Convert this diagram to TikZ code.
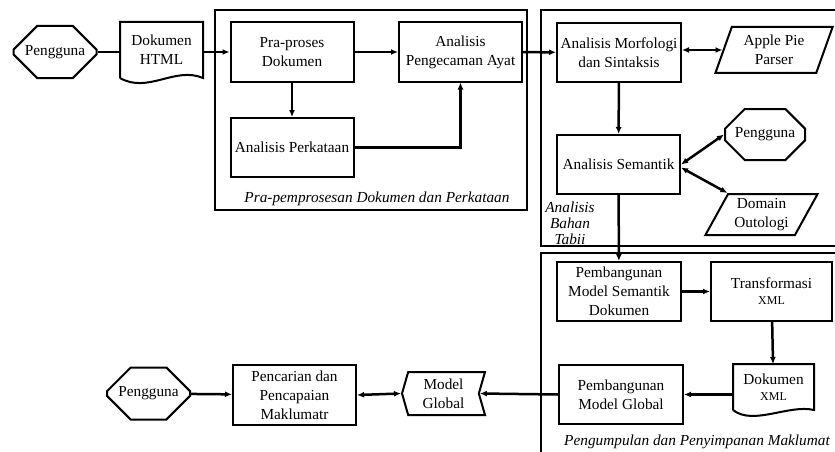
\documentclass[tikz,border=0pt]{standalone}
\usepackage{fontspec}
\setmainfont{Liberation Serif}
\usetikzlibrary{arrows.meta,shapes.geometric,shapes.misc,shapes.symbols}

\begin{document}
\begin{tikzpicture}[x=1pt,y=-1pt,->,>={Latex[length=7pt,width=6pt]},line width=2pt,
		every node/.style={font=\fontsize{15.3}{19}\selectfont,align=center,inner sep=1pt},
		kotak/.style={rectangle,draw,minimum width=123pt,minimum height=59pt},
		pengguna/.style={chamfered rectangle,draw,chamfered rectangle xsep=12pt,chamfered rectangle ysep=16pt,minimum width=83pt,minimum height=52pt},
		selari/.style={trapezium,draw,trapezium stretches=true},
		panah/.style={draw,line width=2.5pt},
		label kotak/.style={font=\fontsize{15.3}{16}\selectfont\itshape}]
		\useasboundingbox (0,0) rectangle (835,452);
		% kotak luar
		\draw[-] (215,10) rectangle (527,210);
		\draw[-] (541,10) rectangle (845,246);
		\draw[-] (541,253) rectangle (845,470);
		\node[label kotak] (lb1) at (377,199) {Pra-pemprosesan Dokumen dan Perkataan};
		\node[label kotak] (lb2) at (570,223) {Analisis\\Bahan\\Tabii};
		\node[label kotak] (lb3) at (697,442) {Pengumpulan dan Penyimpanan Maklumat};
		% nod
		\node[pengguna] (op1) at (55,52) {Pengguna};
		\node[minimum width=81pt,minimum height=54pt] (op2) at (161.5,50) {Dokumen\\HTML};
		\draw[-] (op2.south west) -- (op2.north west) -- (op2.north east) -- (op2.south east)
			.. controls +(-28,-12) and +(28,16) .. (op2.south west);
		\node[kotak] (op3) at (292,52) {Pra-proses\\Dokumen};
		\node[kotak] (op4) at (460.5,52) {Analisis\\Pengecaman Ayat};
		\node[kotak] (op5) at (292,147.5) {Analisis Perkataan};
		\node[kotak,minimum width=124pt] (op6) at (619,52.5) {Analisis Morfologi\\dan Sintaksis};
		\node[selari,trapezium left angle=69,trapezium right angle=111,minimum width=118pt,minimum height=46pt] (op7) at (774,50) {Apple Pie\\Parser};
		\node[pengguna,chamfered rectangle xsep=10pt,chamfered rectangle ysep=12pt,minimum width=80pt,minimum height=51pt] (op8) at (765,134.5) {Pengguna};
		\node[kotak] (op9) at (618.5,164.5) {Analisis Semantik};
		\node[selari,trapezium left angle=61,trapezium right angle=119,minimum width=113pt,minimum height=41pt] (op10) at (761.5,214.5) {Domain\\Outologi};
		\node[kotak,minimum width=124pt] (op11) at (619,291.5) {Pembangunan\\Model Semantik\\Dokumen};
		\node[kotak,minimum width=121pt] (op12) at (771.5,291.5) {Transformasi\\[-3pt]{\fontsize{12}{14}\selectfont XML}};
		\node[minimum width=79pt,minimum height=44pt] (op13) at (773.5,387) {Dokumen\\[-3pt]{\fontsize{12}{14}\selectfont XML}};
		\draw[-] (op13.south west) -- (op13.north west) -- (op13.north east) -- (op13.south east)
			.. controls +(-25,-6) and +(20,16) .. (op13.south west);
		\node[kotak,minimum width=124pt] (op14) at (621,394.5) {Pembangunan\\Model Global};
		\node[signal,draw,signal to=west,signal from=east,signal pointer angle=148,minimum width=83pt,minimum height=43pt] (op15) at (443.5,393.5) {Model\\Global};
		\node[kotak,minimum height=60pt] (op16) at (294.5,395) {Pencarian dan\\Pencapaian\\Maklumatr};
		\node[pengguna] (op17) at (148.5,393.5) {Pengguna};
		% anak panah
		\draw[panah,-] (op1.east) -- (op1.east -| op2.west);
		\draw[panah,->] (op5.east) -| (op4.south);
		\path[->,every edge/.style=panah]
		(op2.east |- op3.west) edge (op3.west)
		(op3) edge (op4)
		(op3) edge (op5)
		(op4) edge (op6)
		(op6.east |- op7.west) edge[<->] (op7.west)
		(op6) edge (op9)
		(op9.east) edge[<->] (op8.west)
		([yshift=-3pt]op9.east) edge[<->] (op10.top left corner)
		(op9) edge (op11)
		(op11) edge (op12)
		(op12) edge (op13)
		(op13.west |- op14.east) edge (op14.east)
		(op14.west) edge (op15.east)
		(op16.east) edge[<->] (op15.west)
		(op17) edge (op16);
\end{tikzpicture}
\end{document}
